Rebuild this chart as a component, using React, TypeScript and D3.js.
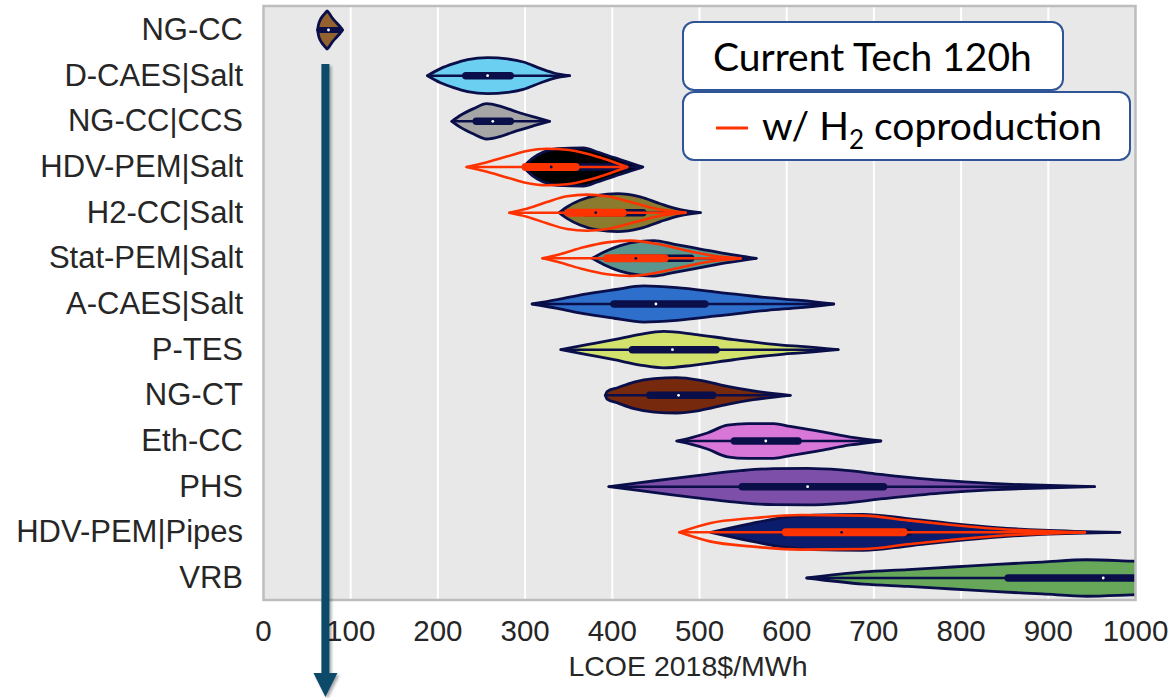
import * as d3 from "d3";

const CATEGORIES = [
  "NG-CC", "D-CAES|Salt", "NG-CC|CCS", "HDV-PEM|Salt", "H2-CC|Salt", "Stat-PEM|Salt",
  "A-CAES|Salt", "P-TES", "NG-CT", "Eth-CC", "PHS", "HDV-PEM|Pipes", "VRB",
];

const FILLS = [
  "#94622f", "#6acff0", "#a6a6a6", "#000000", "#8a7b2e", "#5a968e",
  "#2f6fcc", "#d3e26d", "#76290d", "#d977d9", "#7e4fa8", "#0c1c6c", "#66a75a",
];

// density outlines: [LCOE $/MWh, relative density (%)]
const NG_CC = [[62, 0], [63, 26], [65, 53], [68, 74], [71, 90], [73, 100], [75, 90], [79, 63], [84, 37], [88, 16], [90.5, 0]];
const D_CAES = [[188, 0], [203, 37], [218, 63], [234, 84], [257, 95], [280, 88], [298, 72], [318, 37], [333, 14], [351, 0]];
const NG_CC_CCS = [[216, 0], [226, 32], [241, 67], [256, 93], [272, 79], [291, 49], [310, 23], [328, 0]];
const HDV_SALT = [[298, 0], [308, 44], [321, 79], [337, 96], [367, 100], [383, 79], [402, 49], [421, 21], [435, 0]];
const H2_CC = [[339, 0], [348, 30], [363, 65], [383, 91], [406, 100], [432, 83], [455, 47], [478, 16], [501, 0]];
const STAT_PEM = [[377, 0], [390, 32], [409, 67], [432, 89], [448, 93], [470, 75], [501, 49], [532, 23], [565, 0]];
const A_CAES = [[308, 0], [337, 23], [367, 51], [402, 75], [436, 95], [474, 86], [520, 63], [578, 33], [616, 19], [654, 0]];
const P_TES = [[341, 0], [371, 26], [402, 53], [432, 81], [459, 96], [494, 81], [539, 53], [597, 23], [616, 17], [659, 0]];
const NG_CT = [[392, 0], [394, 20], [406, 40], [425, 70], [448, 88], [474, 93], [501, 79], [532, 47], [562, 23], [604, 0]];
const ETH_CC = [[474, 0], [490, 17], [509, 42], [532, 83], [555, 91], [585, 91], [604, 77], [635, 53], [673, 21], [708, 0]];
const PHS = [[396, 0], [432, 21], [471, 44], [509, 65], [547, 84], [585, 95], [624, 96], [662, 88], [711, 63], [776, 34], [834, 17], [872, 10], [953, 0]];
const HDV_PIPES = [[513, 0], [559, 46], [595, 77], [631, 91], [688, 95], [739, 72], [790, 46], [841, 25], [893, 11], [982, 0]];
const VRB = [[623, 0], [688, 32], [739, 44], [790, 58], [841, 72], [893, 84], [944, 96], [995, 89], [1020, 85]];

const BASE_DENSITY = [NG_CC, D_CAES, NG_CC_CCS, HDV_SALT, H2_CC, STAT_PEM, A_CAES, P_TES, NG_CT, ETH_CC, PHS, HDV_PIPES, VRB];

// [min, q1, median, q3, max]
const BASE_STATS = [
  [62, 64.6, 74.5, 88.3, 90.5],
  [188, 232, 257, 283, 351],
  [216, 244, 263, 283, 328],
  [298, 310, 345, 415, 435],
  [339, 370, 405, 435, 501],
  [377, 410, 450, 490, 565],
  [308, 402, 450, 506, 654],
  [341, 423, 469, 519, 659],
  [392, 443, 476, 515, 604],
  [474, 540, 576, 613, 708],
  [396, 549, 624, 711, 953],
  [513, 600, 665, 740, 982],
  [623, 854, 963, 1050, 1050],
];

// w/ H2 coproduction
const H2_CATEGORIES = ["HDV-PEM|Salt", "H2-CC|Salt", "Stat-PEM|Salt", "HDV-PEM|Pipes"];
const HDV_SALT_H2 = [[233, 0], [253, 21], [280, 56], [302, 84], [325, 96], [348, 91], [371, 70], [394, 38], [417, 0]];
const H2_CC_H2 = [[282, 0], [302, 21], [325, 56], [348, 86], [371, 95], [394, 86], [425, 51], [455, 16], [484, 0]];
const STAT_PEM_H2 = [[320, 0], [341, 23], [367, 58], [394, 84], [421, 93], [452, 75], [486, 40], [516, 14], [547, 0]];
const HDV_PIPES_H2 = [[477, 0], [513, 49], [559, 74], [616, 91], [688, 88], [739, 63], [790, 39], [841, 19], [942, 0]];
const H2_DENSITY = [HDV_SALT_H2, H2_CC_H2, STAT_PEM_H2, HDV_PIPES_H2];
const H2_STATS = [
  [233, 300.5, 330, 358, 417],
  [282, 350, 381, 412, 484],
  [320, 394, 427, 460, 547],
  [477, 599, 663, 734, 942],
];

const X_TICKS = [0, 100, 200, 300, 400, 500, 600, 700, 800, 900, 1000];
const ARROW_VALUE = 71;

const NAVY = "#0a0f4a";
const RED = "#ff3300";
const PLOT = { left: 263.5, right: 1135.5, top: 6, bottom: 600 };
const SANS = "'Liberation Sans', Arial, sans-serif";

export default function App() {
  const x = d3.scaleLinear().domain([0, 1000]).range([PLOT.left, PLOT.right]);
  const y = d3.scalePoint<string>().domain(CATEGORIES).range([30, 578]);
  const w = d3.scaleLinear().domain([0, 100]).range([0, 19]);

  const areaFor = (cy: number) =>
    d3
      .area<number[]>()
      .x((d) => x(d[0]))
      .y0((d) => cy - w(d[1]))
      .y1((d) => cy + w(d[1]))
      .curve(d3.curveMonotoneX);

  const arrowX = x(ARROW_VALUE);

  return (
    <div style={{ position: "absolute", left: 0, top: 0 }}>
      <svg width={1175} height={698} style={{ display: "block", background: "#fff" }}>
        <defs>
          <clipPath id="plot-clip">
            <rect x={PLOT.left} y={PLOT.top} width={PLOT.right - PLOT.left} height={PLOT.bottom - PLOT.top} />
          </clipPath>
          <filter id="shadow" x="-50%" y="-10%" width="200%" height="120%">
            <feDropShadow dx={2} dy={2} stdDeviation={1.5} floodColor="#000" floodOpacity={0.35} />
          </filter>
        </defs>

        {/* plot background + grid */}
        <rect x={PLOT.left} y={PLOT.top} width={PLOT.right - PLOT.left} height={PLOT.bottom - PLOT.top} fill="#e8e8e8" />
        {X_TICKS.slice(1, -1).map((t) => (
          <line key={t} x1={x(t)} x2={x(t)} y1={PLOT.top} y2={PLOT.bottom} stroke="#fff" strokeWidth={2} />
        ))}

        <g clipPath="url(#plot-clip)">
          {CATEGORIES.map((c, i) => {
            const cy = y(c)!;
            const s = BASE_STATS[i];
            const hi = H2_CATEGORIES.indexOf(c);
            const hs = hi >= 0 ? H2_STATS[hi] : null;
            return (
              <g key={c}>
                <path d={areaFor(cy)(BASE_DENSITY[i]) ?? ""} fill={FILLS[i]} stroke={NAVY} strokeWidth={2.8} strokeLinejoin="round" />
                <line x1={x(s[0])} x2={x(s[4])} y1={cy} y2={cy} stroke={NAVY} strokeWidth={2.5} strokeLinecap="round" />
                <line x1={x(s[1])} x2={x(s[3])} y1={cy} y2={cy} stroke={NAVY} strokeWidth={i === 0 ? 6 : 7.5} strokeLinecap="round" />
                <circle cx={x(s[2])} cy={cy} r={1.4} fill="#fff" />
                {hs && (
                  <g>
                    <path d={areaFor(cy)(H2_DENSITY[hi]) ?? ""} fill="none" stroke={RED} strokeWidth={2.6} strokeLinejoin="round" />
                    <line x1={x(hs[0])} x2={x(hs[4])} y1={cy} y2={cy} stroke={RED} strokeWidth={2.5} strokeLinecap="round" />
                    <line x1={x(hs[1])} x2={x(hs[3])} y1={cy} y2={cy} stroke={RED} strokeWidth={8} strokeLinecap="round" />
                    <circle cx={x(hs[2])} cy={cy} r={1.4} fill={NAVY} />
                  </g>
                )}
              </g>
            );
          })}
        </g>

        <rect x={PLOT.left} y={PLOT.top} width={PLOT.right - PLOT.left} height={PLOT.bottom - PLOT.top} fill="none" stroke="#bdbdbd" strokeWidth={2.5} />

        {/* category labels */}
        {CATEGORIES.map((c) => (
          <text key={c} x={243} y={y(c)! + 10} textAnchor="end" fontFamily={SANS} fontSize={31} fill="#262626">
            {c}
          </text>
        ))}

        {/* x ticks */}
        {X_TICKS.map((t) => (
          <text key={t} x={x(t)} y={641} textAnchor="middle" fontFamily={SANS} fontSize={29.5} fill="#262626">
            {t}
          </text>
        ))}
        <text x={688} y={676} textAnchor="middle" fontFamily={SANS} fontSize={28.5} fill="#262626">
          LCOE 2018$/MWh
        </text>

        {/* legend */}
        <g fontFamily="Lato, 'Open Sans', sans-serif" fill="#000">
          <rect x={683} y={22} width={380} height={68} rx={11} fill="#fff" stroke="#2f5597" strokeWidth={2} />
          <text x={713} y={71} fontSize={39}>Current Tech 120h</text>
          <rect x={683} y={92} width={447} height={68} rx={11} fill="#fff" stroke="#2f5597" strokeWidth={2} />
          <line x1={716} x2={748} y1={128} y2={128} stroke={RED} strokeWidth={3} />
          <text x={762} y={140} fontSize={39}>
            w/ H<tspan fontSize={26} dy={9}>2</tspan>
            <tspan dy={-9}> coproduction</tspan>
          </text>
        </g>

        {/* arrow */}
        <g filter="url(#shadow)" fill="#0b4a69">
          <rect x={arrowX - 4} y={64} width={8} height={612} />
          <polygon points={`${arrowX - 12},${673} ${arrowX + 12},${673} ${arrowX},${697}`} />
        </g>
      </svg>
    </div>
  );
}
